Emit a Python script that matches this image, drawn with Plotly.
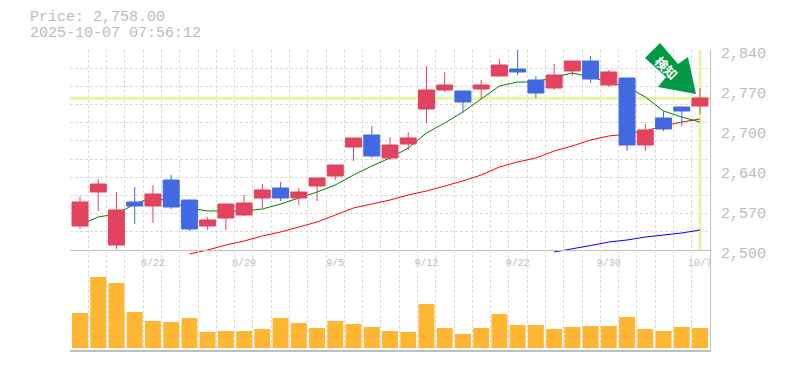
import plotly.graph_objects as go

dates = ["8/18","8/19","8/20","8/21","8/22","8/25","8/26","8/27","8/28","8/29",
         "9/1","9/2","9/3","9/4","9/5","9/8","9/9","9/10","9/11","9/12",
         "9/16","9/17","9/18","9/19","9/22","9/24","9/25","9/26","9/29","9/30",
         "10/1","10/2","10/3","10/6","10/7"]
opens = [2540.8,2598.6,2508.5,2581.6,2574.8,2619,2585,2540.8,2554.4,2559.5,
         2588.4,2605.4,2588.4,2608.8,2625.8,2675.1,2695.5,2656.4,2680.2,2739.7,
         2772,2770.3,2773.7,2795.8,2807.7,2789,2775.4,2804.3,2821.3,2780.5,
         2792.4,2678.5,2724.4,2743.1,2744.8]
highs = [2590.6,2620.7,2598.6,2607.1,2610.5,2627.5,2585,2556.1,2578.2,2593.5,
         2612.2,2615.6,2605.4,2622.4,2644.5,2690.4,2710.8,2692.1,2700.6,2812.8,
         2802.6,2770.3,2789,2824.7,2841,2795.8,2816.2,2821.3,2829.8,2806,
         2792.4,2714.2,2736.3,2743.1,2775.4]
lows = [2535.7,2566.3,2501.7,2544.2,2545.9,2569.7,2532.3,2534,2534,2557.8,
        2571.4,2583.3,2576.5,2583.3,2619,2651.3,2656.4,2653,2670,2715.9,
        2768.6,2732.9,2756.7,2795.8,2797.5,2758.4,2772,2795.8,2783.9,2777.1,
        2668.3,2668.3,2702.3,2710.8,2731.2]
closes = [2581.6,2612.2,2568,2574.8,2595.2,2573.1,2535.7,2551,2578.2,2579.9,
          2602,2588.4,2598.6,2622.4,2644.5,2690.4,2659.8,2678.5,2690.4,2772,
          2780.5,2751.6,2780.5,2814.5,2802.6,2766.9,2797.5,2821.3,2790.7,2802.6,
          2678.5,2704,2705.7,2736.3,2758.4]
ma_green = [2542.5,2556.1,2561.2,2578.2,2590.1,2581.6,2571.4,2566.3,2566.3,2566.3,
            2569.7,2578.2,2588.4,2598.6,2610.5,2627.5,2642.8,2656.4,2673.4,2698.9,
            2715.9,2734.6,2756.7,2778.8,2785.6,2785.6,2794.1,2800.9,2794.1,2785.6,
            2777.1,2760.1,2736.3,2726.1,2717.6]
ma_red = [None]*6 + [2493.2,2500,2508.5,2515.3,2523.8,2530.6,2539.1,2547.6,2559.5,2571.4,
                     2578.2,2585,2593.5,2600.3,2608.8,2617.3,2627.5,2641.1,2649.6,2656.4,
                     2668.3,2676.8,2687,2693.8,2697.2,2702.3,2710.8,2717.6,2722.7]
ma_blue = [None]*26 + [2496.6,2501.7,2507.6,2513.6,2517,2522.1,2525.5,2528.9,2534]
volumes = [35,71,65,36,27,26,30,16,17,17,19,30,25,20,27,24,21,17,16,44,
           20,14,20,34,23,23,19,21,22,22,31,19,17,21,20]
price_now = 2758
labelled = ["8/22","8/29","9/5","9/12","9/22","9/30","10/7"]
y_ticks = [2500,2568,2636,2704,2772,2840]
y_labels = ["2,500","2,570","2,640","2,700","2,770","2,840"]
title_price = "Price: 2,758.00"
title_time = "2025-10-07 07:56:12"
badge = "検知"

GRID = "#dadada"
AXIS = "#c0c0c0"
TXT = "#bbbbbb"
LIME = "#e6f5a8"
MONO = "Liberation Mono"

n = len(dates)
xs = list(range(n))
xr = [-0.548, 34.548]
edges = [xr[0] + (xr[1] - xr[0]) * i / n for i in range(n + 1)]
price_floor, price_top = 2500, 2840
ygrid = [price_floor + 340 * i / 11 for i in range(12)]
# the price scale runs on a little below the panel floor, as the moving averages do in the reference
yr = [2479.6, price_top]

fig = go.Figure()
fig.add_trace(go.Scatter(x=xr, y=[price_now, price_now], mode="lines", line=dict(color=LIME, width=3), xaxis="x", yaxis="y", hoverinfo="skip"))
fig.add_trace(go.Scatter(x=[n - 1, n - 1], y=[price_floor, price_top], mode="lines", line=dict(color=LIME, width=3), xaxis="x", yaxis="y", hoverinfo="skip"))
for vals, col in [(ma_blue, "#0000ff"), (ma_red, "#ff0000"), (ma_green, "#008000")]:
    fig.add_trace(go.Scatter(x=xs, y=vals, mode="lines", line=dict(color=col, width=1), cliponaxis=False, xaxis="x", yaxis="y"))
fig.add_trace(go.Candlestick(x=xs, open=opens, high=highs, low=lows, close=closes, xaxis="x", yaxis="y3",
    whiskerwidth=0,
    increasing=dict(line=dict(color="#e2435f", width=1), fillcolor="#e2435f"),
    decreasing=dict(line=dict(color="#4169e1", width=1), fillcolor="#4169e1")))
fig.add_trace(go.Bar(x=xs, y=volumes, marker=dict(color="#ffb733", line=dict(width=0)), width=0.875, xaxis="x2", yaxis="y2"))

x_common = dict(range=xr, showgrid=False, zeroline=False, ticks="",
                minor=dict(tickmode="array", tickvals=edges, showgrid=True, gridcolor=GRID, griddash="3px,2px", gridwidth=1, ticks=""))
fig.update_layout(
    width=785, height=370, showlegend=False, margin=dict(l=70, r=75, t=50, b=20, pad=0),
    paper_bgcolor="white", plot_bgcolor="rgba(0,0,0,0)", boxgap=0.125, boxgroupgap=0, boxmode="overlay", barmode="overlay",
    xaxis=dict(x_common, anchor="free", position=100/300, rangeslider=dict(visible=False), showline=True, linecolor=AXIS, linewidth=1,
               tickmode="array", tickvals=[dates.index(d) for d in labelled], ticktext=labelled,
               tickfont=dict(family=MONO, size=10, color=TXT), ticklabelstandoff=3),
    xaxis2=dict(x_common, anchor="y2", matches="x", showticklabels=False, showline=True, linecolor=AXIS, linewidth=2),
    yaxis=dict(domain=[88/300, 1], range=yr, side="right", anchor="x", showgrid=False, zeroline=False, showline=True,
               linecolor=AXIS, linewidth=1, ticks="", tickmode="array", tickvals=y_ticks, ticktext=y_labels,
               tickfont=dict(family=MONO, size=15, color=TXT), ticklabelstandoff=7, ticklabelshift=3,
               minor=dict(tickmode="array", tickvals=ygrid, showgrid=True, gridcolor=GRID, griddash="3px,2px", gridwidth=1, ticks="")),
    yaxis3=dict(range=yr, overlaying="y", side="right", visible=False, anchor="x"),
    yaxis2=dict(domain=[0, 100/300], range=[-2, 98], side="right", anchor="x2", showgrid=False, zeroline=False,
                showticklabels=False, ticks="", showline=True, linecolor=AXIS, linewidth=1),
)

def px(v):
    return (v - 70) / 640
def py(v):
    return (350 - v) / 300

arrow = [(660, 43), (645, 58), (666, 77), (658, 87), (696, 94), (688, 57), (678, 64)]
path = "M " + " L ".join(f"{px(a):.4f} {py(b):.4f}" for a, b in arrow) + " Z"
fig.add_shape(type="path", xref="paper", yref="paper", path=path, fillcolor="#009944", line=dict(width=0), layer="above")
fig.add_annotation(xref="paper", yref="paper", x=px(666.5), y=py(67), text=f"<b>{badge}</b>", textangle=45, showarrow=False,
                   xanchor="center", yanchor="middle",
                   font=dict(family="Noto Sans CJK JP", size=13, color="white"))
for txt, yc in [(title_price, 18), (title_time, 33)]:
    fig.add_annotation(xref="paper", yref="paper", x=px(29), y=py(yc), text=txt, showarrow=False, xanchor="left", yanchor="middle",
                       font=dict(family=MONO, size=15, color=TXT), borderpad=0)

fig.write_html("out.html", config=dict(displayModeBar=False), post_script="""
document.body.style.margin='0';
var s=document.createElement('style');
s.textContent='.js-plotly-plot .plot path,.js-plotly-plot .gridlayer path,.js-plotly-plot .minor-gridlayer path{shape-rendering:crispEdges}';
document.head.appendChild(s);
var g=document.querySelector('.js-plotly-plot');
var up=g.querySelector('.layer-above .shapelayer');
var info=g.querySelector('.infolayer');
if(up&&info){info.parentNode.insertBefore(up,info);}
""")
